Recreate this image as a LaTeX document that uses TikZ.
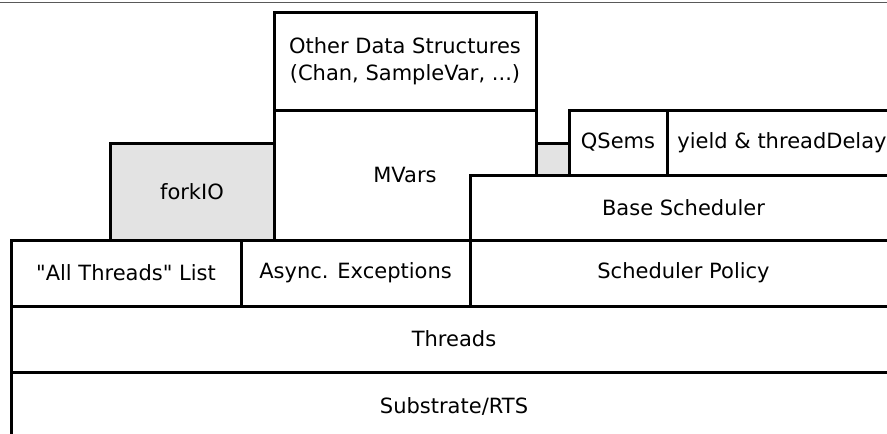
\documentclass[tikz,border=0pt]{standalone}
\usepackage{fontspec}
\setmainfont{DejaVu Sans}
\definecolor{layergray}{RGB}{227,227,227}
\tikzset{
  layer/.style={draw, fill=white, line width=3pt, inner sep=0pt, outer sep=0pt, align=center,
    font=\fontsize{21}{27}\selectfont},
  shaded/.style={layer, fill=layergray}
}

\begin{document}
\begin{tikzpicture}[x=1pt,y=-1pt]
        \useasboundingbox (0,0) rectangle (887,434);
        \clip (0,0) rectangle (887,434);
        \draw[black!65, line width=1.3pt] (0,2.5) -- (887,2.5);
        \node[shaded, minimum width=164, minimum height=97] (forkio) at (192,191.5) {forkIO};
        \node[shaded, minimum width=33, minimum height=32] (gap) at (552.5,159) {};
        \node[layer, minimum width=262, minimum height=98] (others) at (405,61) {Other Data Structures\\(Chan, SampleVar, ...)};
        \node[layer, minimum width=262, minimum height=130] (mvars) at (405,175) {MVars};
        \node[layer, minimum width=98, minimum height=65] (qsems) at (618,142.5) {QSems};
        \node[layer, minimum width=230, minimum height=65] (yield) at (782,142.5) {yield \& threadDelay};
        \node[layer, minimum width=427, minimum height=65] (base) at (683.5,207.5) {Base Scheduler};
        \node[layer, minimum width=230, minimum height=66] (allthreads) at (126,273) {\textquotedbl All Threads\textquotedbl{} List};
        \node[layer, minimum width=229, minimum height=66] (async) at (355.5,273) {Async. Exceptions};
        \node[layer, minimum width=427, minimum height=66] (policy) at (683.5,273) {Scheduler Policy};
        \node[layer, minimum width=886, minimum height=66] (threads) at (454,339) {Threads};
        \node[layer, minimum width=886, minimum height=68] (substrate) at (454,406) {Substrate/RTS};
    \end{tikzpicture}
\end{document}
